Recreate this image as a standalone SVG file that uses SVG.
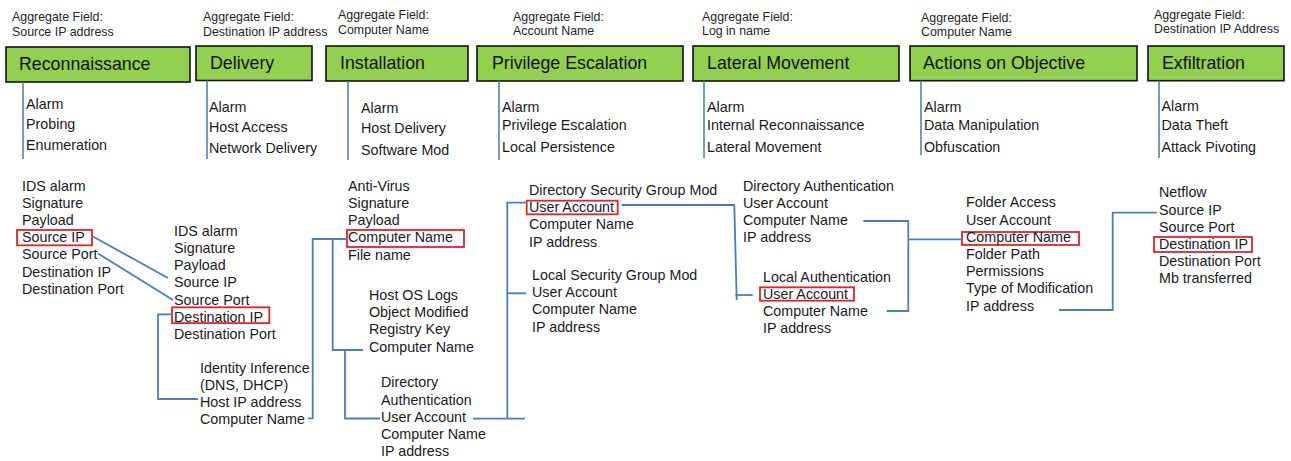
<svg xmlns="http://www.w3.org/2000/svg" width="1291" height="461" viewBox="0 0 1291 461">
  <style>
    text { font-family: "Liberation Sans", Arial, sans-serif; fill: #1a1a1a; }
    .agg { font-size: 12.4px; fill: #262626; }
    .title { font-size: 17.8px; fill: #111; }
    .item { font-size: 14.3px; }
    .stage { fill: #92d050; stroke: #111; stroke-width: 1.6; }
    .stem { stroke: #4f7fc4; stroke-width: 1.6; fill: none; }
    .link { stroke: #4a7cc4; stroke-width: 1.8; fill: none; }
    .hl { fill: none; stroke: #e8202a; stroke-width: 1.8; }
  </style>

  <rect width="1291" height="461" fill="#ffffff"/>

  <!-- Kill-chain stages -->
  <g id="stage-reconnaissance">
    <text class="agg" x="12" y="21">Aggregate Field:</text>
    <text class="agg" x="12" y="36">Source IP address</text>
    <rect class="stage" x="6" y="47" width="184" height="35"/>
    <text class="title" x="19" y="69.5">Reconnaissance</text>
    <line class="stem" x1="23" y1="82" x2="23" y2="159"/>
    <text class="item" x="26" y="108.5">Alarm</text>
    <text class="item" x="26" y="128.5">Probing</text>
    <text class="item" x="26" y="150">Enumeration</text>
  </g>

  <g id="stage-delivery">
    <text class="agg" x="203" y="21">Aggregate Field:</text>
    <text class="agg" x="203" y="35.5">Destination IP address</text>
    <rect class="stage" x="196" y="46" width="116" height="34.5"/>
    <text class="title" x="210" y="68.5">Delivery</text>
    <line class="stem" x1="207" y1="80.5" x2="207" y2="159"/>
    <text class="item" x="209" y="111.5">Alarm</text>
    <text class="item" x="209" y="131.5">Host Access</text>
    <text class="item" x="209" y="153">Network Delivery</text>
  </g>

  <g id="stage-installation">
    <text class="agg" x="338" y="19">Aggregate Field:</text>
    <text class="agg" x="338" y="34">Computer Name</text>
    <rect class="stage" x="326" y="46" width="142" height="35"/>
    <text class="title" x="340" y="68.5">Installation</text>
    <line class="stem" x1="348" y1="81" x2="348" y2="160"/>
    <text class="item" x="361" y="113.3">Alarm</text>
    <text class="item" x="361" y="133.3">Host Delivery</text>
    <text class="item" x="361" y="155">Software Mod</text>
  </g>

  <g id="stage-privilege-escalation">
    <text class="agg" x="513" y="20.7">Aggregate Field:</text>
    <text class="agg" x="513" y="34.5">Account Name</text>
    <rect class="stage" x="477" y="46" width="206" height="35"/>
    <text class="title" x="492" y="68.5">Privilege Escalation</text>
    <line class="stem" x1="499" y1="81" x2="499" y2="160"/>
    <text class="item" x="502" y="111.5">Alarm</text>
    <text class="item" x="502" y="130">Privilege Escalation</text>
    <text class="item" x="502" y="151.5">Local Persistence</text>
  </g>

  <g id="stage-lateral-movement">
    <text class="agg" x="702" y="20.7">Aggregate Field:</text>
    <text class="agg" x="702" y="34.5">Log in name</text>
    <rect class="stage" x="693" y="46" width="206" height="35"/>
    <text class="title" x="707" y="68.5">Lateral Movement</text>
    <line class="stem" x1="704" y1="81" x2="704" y2="158"/>
    <text class="item" x="707" y="111.5">Alarm</text>
    <text class="item" x="707" y="130">Internal Reconnaissance</text>
    <text class="item" x="707" y="151.5">Lateral Movement</text>
  </g>

  <g id="stage-actions-on-objective">
    <text class="agg" x="921" y="21.7">Aggregate Field:</text>
    <text class="agg" x="921" y="36">Computer Name</text>
    <rect class="stage" x="910" y="46" width="227" height="34.7"/>
    <text class="title" x="923" y="68.5">Actions on Objective</text>
    <line class="stem" x1="921" y1="80.7" x2="921" y2="155"/>
    <text class="item" x="924" y="111.5">Alarm</text>
    <text class="item" x="924" y="130">Data Manipulation</text>
    <text class="item" x="924" y="151.5">Obfuscation</text>
  </g>

  <g id="stage-exfiltration">
    <text class="agg" x="1154" y="18.5">Aggregate Field:</text>
    <text class="agg" x="1154" y="32.7">Destination IP Address</text>
    <rect class="stage" x="1148" y="46" width="136" height="34.7"/>
    <text class="title" x="1162" y="68.5">Exfiltration</text>
    <line class="stem" x1="1159" y1="80.7" x2="1159" y2="158"/>
    <text class="item" x="1161.5" y="111">Alarm</text>
    <text class="item" x="1161.5" y="130">Data Theft</text>
    <text class="item" x="1161.5" y="151.5">Attack Pivoting</text>
  </g>

  <!-- Event records -->
  <g id="ids-alarm-recon">
    <rect class="hl" x="17" y="230" width="75" height="15.3"/>
    <text class="item" x="22" y="190.5">IDS alarm</text>
    <text class="item" x="22" y="207.7">Signature</text>
    <text class="item" x="22" y="224.9">Payload</text>
    <text class="item" x="22" y="242.1">Source IP</text>
    <text class="item" x="22" y="259.3">Source Port</text>
    <text class="item" x="22" y="276.5">Destination IP</text>
    <text class="item" x="22" y="293.7">Destination Port</text>
  </g>

  <g id="ids-alarm-delivery">
    <rect class="hl" x="172" y="307.3" width="97.3" height="15.8"/>
    <text class="item" x="174" y="235.7">IDS alarm</text>
    <text class="item" x="174" y="252.9">Signature</text>
    <text class="item" x="174" y="270.1">Payload</text>
    <text class="item" x="174" y="287.3">Source IP</text>
    <text class="item" x="174" y="304.5">Source Port</text>
    <text class="item" x="174" y="321.7">Destination IP</text>
    <text class="item" x="174" y="338.9">Destination Port</text>
  </g>

  <g id="identity-inference">
    <text class="item" x="200" y="372.7">Identity Inference</text>
    <text class="item" x="200" y="389.9">(DNS, DHCP)</text>
    <text class="item" x="200" y="407.1">Host IP address</text>
    <text class="item" x="200" y="424.3">Computer Name</text>
  </g>

  <g id="anti-virus">
    <rect class="hl" x="347" y="230" width="117" height="17"/>
    <text class="item" x="348" y="190.7">Anti-Virus</text>
    <text class="item" x="348" y="207.9">Signature</text>
    <text class="item" x="348" y="225.1">Payload</text>
    <text class="item" x="348" y="242.3">Computer Name</text>
    <text class="item" x="348" y="259.5">File name</text>
  </g>

  <g id="host-os-logs">
    <text class="item" x="369" y="300">Host OS Logs</text>
    <text class="item" x="369" y="317.2">Object Modified</text>
    <text class="item" x="369" y="334.4">Registry Key</text>
    <text class="item" x="369" y="351.6">Computer Name</text>
  </g>

  <g id="directory-authentication-install">
    <text class="item" x="381" y="387.3">Directory</text>
    <text class="item" x="381" y="404.5">Authentication</text>
    <text class="item" x="381" y="421.7">User Account</text>
    <text class="item" x="381" y="438.9">Computer Name</text>
    <text class="item" x="381" y="456.1">IP address</text>
  </g>

  <g id="directory-security-group-mod">
    <rect class="hl" x="526.7" y="200.7" width="91" height="13.6"/>
    <text class="item" x="529" y="195">Directory Security Group Mod</text>
    <text class="item" x="529" y="212.2">User Account</text>
    <text class="item" x="529" y="229.4">Computer Name</text>
    <text class="item" x="529" y="246.6">IP address</text>
  </g>

  <g id="local-security-group-mod">
    <text class="item" x="532" y="280">Local Security Group Mod</text>
    <text class="item" x="532" y="297.2">User Account</text>
    <text class="item" x="532" y="314.4">Computer Name</text>
    <text class="item" x="532" y="331.6">IP address</text>
  </g>

  <g id="directory-authentication-lateral">
    <text class="item" x="743" y="190.7">Directory Authentication</text>
    <text class="item" x="743" y="207.9">User Account</text>
    <text class="item" x="743" y="225.1">Computer Name</text>
    <text class="item" x="743" y="242.3">IP address</text>
  </g>

  <g id="local-authentication">
    <rect class="hl" x="760" y="287.3" width="94" height="13.4"/>
    <text class="item" x="763" y="281.7">Local Authentication</text>
    <text class="item" x="763" y="298.9">User Account</text>
    <text class="item" x="763" y="316.1">Computer Name</text>
    <text class="item" x="763" y="333.3">IP address</text>
  </g>

  <g id="folder-access">
    <rect class="hl" x="962" y="232" width="117" height="13"/>
    <text class="item" x="966" y="207.3">Folder Access</text>
    <text class="item" x="966" y="224.5">User Account</text>
    <text class="item" x="966" y="241.7">Computer Name</text>
    <text class="item" x="966" y="258.9">Folder Path</text>
    <text class="item" x="966" y="276.1">Permissions</text>
    <text class="item" x="966" y="293.3">Type of Modification</text>
    <text class="item" x="966" y="310.5">IP address</text>
  </g>

  <g id="netflow">
    <rect class="hl" x="1154" y="237" width="98" height="15"/>
    <text class="item" x="1159" y="197.3">Netflow</text>
    <text class="item" x="1159" y="214.5">Source IP</text>
    <text class="item" x="1159" y="231.7">Source Port</text>
    <text class="item" x="1159" y="248.9">Destination IP</text>
    <text class="item" x="1159" y="266.1">Destination Port</text>
    <text class="item" x="1159" y="283.3">Mb transferred</text>
  </g>

  <!-- Field correlations between records -->
  <g id="connectors">
    <line class="link" x1="92" y1="236" x2="168" y2="278"/>
    <line class="link" x1="98" y1="253.5" x2="173" y2="300"/>
    <polyline class="link" points="172,314.3 158,314.3 158,399 198,399"/>
    <polyline class="link" points="308,418.3 312.7,418.3 312.7,239 347,239"/>
    <polyline class="link" points="332.7,239 332.7,350 363,350"/>
    <polyline class="link" points="345,350 345,418.5 380,418.5"/>
    <line class="link" x1="473" y1="418.7" x2="525" y2="418.7"/>
    <polyline class="link" points="507.3,418.7 507.3,202.7 526.7,202.7"/>
    <line class="link" x1="507.3" y1="293.3" x2="526" y2="293.3"/>
    <polyline class="link" points="621.7,205 734.3,205 736.7,300"/>
    <line class="link" x1="735.5" y1="295" x2="752.7" y2="295"/>
    <polyline class="link" points="863.3,221 908.3,221 908.3,311 886.7,311"/>
    <line class="link" x1="908.3" y1="239.3" x2="961.7" y2="239.3"/>
    <polyline class="link" points="1059,310 1112.7,310 1112.7,212.7 1156.7,212.7"/>
  </g>
</svg>
